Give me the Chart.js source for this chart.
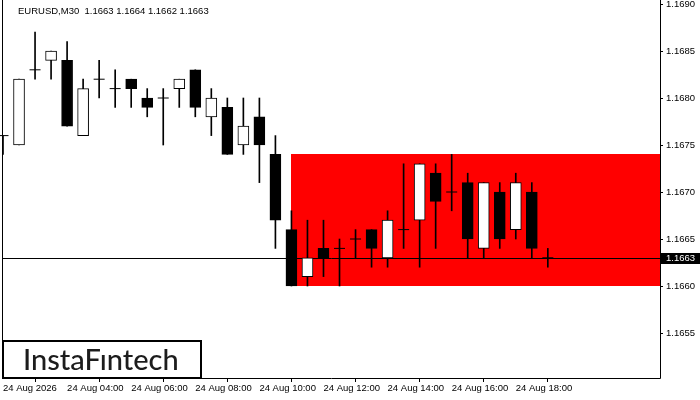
<!DOCTYPE html>
<html>
<head>
<meta charset="utf-8">
<script src="https://cdn.jsdelivr.net/npm/chart.js@4.4.1/dist/chart.umd.min.js"></script>
<style>
  html, body { margin: 0; padding: 0; background: #fff; }
  canvas { display: block; }
</style>
</head>
<body>
<canvas id="candleChart" width="700" height="400"></canvas>
<script>
// EURUSD M30 candles
const times = ['02:00','02:30','03:00','03:30','04:00','04:30','05:00','05:30','06:00','06:30',
               '07:00','07:30','08:00','08:30','09:00','09:30','10:00','10:30','11:00','11:30',
               '12:00','12:30','13:00','13:30','14:00','14:30','15:00','15:30','16:00','16:30',
               '17:00','17:30','18:00','18:30','19:00','19:30','20:00','20:30','21:00','21:30',
               '22:00','22:30'];
const opens  = [1.1676,1.1675,1.1683,1.1684,1.1684,1.1676,1.1682,1.1681,1.1682,1.1680,
                1.1680,1.1681,1.1683,1.1678,1.1679,1.1675,1.1678,1.1674,1.1666,1.1661,
                1.1664,1.1664,1.1665,1.1666,1.1663,1.1666,1.1667,1.1672,1.1670,1.1671,
                1.1664,1.1670,1.1666,1.1670,1.1663];
const highs  = [1.1676,1.1682,1.1687,1.1685,1.1686,1.1682,1.1684,1.1683,1.1682,1.1681,
                1.1681,1.1682,1.1683,1.1681,1.1680,1.1680,1.1680,1.1676,1.1668,1.1667,
                1.1667,1.1665,1.1666,1.1666,1.1668,1.1673,1.1673,1.1673,1.1674,1.1672,
                1.1671,1.1671,1.1672,1.1671,1.1664];
const lows   = [1.1674,1.1675,1.1682,1.1682,1.1677,1.1676,1.1680,1.1679,1.1679,1.1678,
                1.1675,1.1679,1.1678,1.1676,1.1674,1.1674,1.1671,1.1664,1.1660,1.1660,
                1.1661,1.1660,1.1663,1.1662,1.1662,1.1664,1.1662,1.1664,1.1668,1.1663,
                1.1663,1.1664,1.1665,1.1663,1.1662];
const closes = [1.1676,1.1682,1.1683,1.1685,1.1677,1.1681,1.1682,1.1681,1.1681,1.1679,
                1.1680,1.1682,1.1679,1.1680,1.1674,1.1677,1.1675,1.1667,1.1660,1.1663,
                1.1663,1.1664,1.1665,1.1664,1.1667,1.1666,1.1673,1.1669,1.1670,1.1665,
                1.1671,1.1665,1.1671,1.1664,1.1663];

const tickIndex  = [0, 4, 8, 12, 16, 20, 24, 28, 32];
const tickLabels = ['24 Aug 2026','24 Aug 04:00','24 Aug 06:00','24 Aug 08:00','24 Aug 10:00',
                    '24 Aug 12:00','24 Aug 14:00','24 Aug 16:00','24 Aug 18:00'];
const priceTicks = [1.1655, 1.1660, 1.1665, 1.1670, 1.1675, 1.1680, 1.1685, 1.1690];

// red pattern zone
const zoneStart = 18;
const zoneHigh = 1.1674;
const zoneLow = 1.1660;

const lastPrice = closes[closes.length - 1];
const titleText = 'EURUSD,M30  ' + [opens, highs, lows, closes].map(a => a[a.length - 1].toFixed(4)).join(' ');

const axisFont = { family: "'Liberation Sans', Arial, sans-serif", size: 9.5 };

const wicks = lows.map((l, i) => [l, highs[i]]);
const bodies = opens.map((o, i) => o === closes[i] ? null : [o, closes[i]]);
const bodyColors = opens.map((o, i) => closes[i] > o ? '#ffffff' : '#000000');
const dojis = opens.map((o, i) => o === closes[i] ? o : null);

const overlayPlugin = {
    id: 'overlay',
    beforeDatasetsDraw(chart) {
        const { ctx, chartArea, scales } = chart;
        const x = scales.x, y = scales.y;
        ctx.save();
        // zone
        const zx = x.getPixelForValue(zoneStart);
        const zt = y.getPixelForValue(zoneHigh);
        const zb = y.getPixelForValue(zoneLow);
        ctx.fillStyle = '#ff0000';
        ctx.fillRect(Math.round(zx), Math.round(zt), chartArea.right - Math.round(zx), Math.round(zb) - Math.round(zt));
        // bid line
        const by = Math.round(y.getPixelForValue(lastPrice)) + 0.5;
        ctx.strokeStyle = '#000';
        ctx.lineWidth = 1;
        ctx.beginPath();
        ctx.moveTo(chartArea.left, by);
        ctx.lineTo(chartArea.right, by);
        ctx.stroke();
        ctx.restore();
    },
    afterDraw(chart) {
        const { ctx, chartArea, scales } = chart;
        const y = scales.y;
        ctx.save();
        // frame (no top line)
        ctx.strokeStyle = '#000';
        ctx.lineWidth = 1;
        ctx.beginPath();
        ctx.moveTo(chartArea.left - 0.5, 0);
        ctx.lineTo(chartArea.left - 0.5, chartArea.bottom + 0.5);
        ctx.lineTo(chartArea.right + 0.5, chartArea.bottom + 0.5);
        ctx.lineTo(chartArea.right + 0.5, 0);
        ctx.stroke();

        // watermark box
        ctx.fillStyle = '#fff';
        ctx.fillRect(3, 341, 198, 37);
        ctx.lineWidth = 2;
        ctx.strokeRect(3, 341, 198, 37);
        ctx.fillStyle = '#1c1c1c';
        ctx.font = "500 29px Lato, 'Open Sans', sans-serif";
        ctx.textBaseline = 'alphabetic';
        ctx.textAlign = 'left';
        ctx.fillText('InstaF\u0131ntech', 23, 370);

        // price label
        const py = Math.round(y.getPixelForValue(lastPrice));
        ctx.fillStyle = '#000';
        ctx.fillRect(chartArea.right + 1, py - 5, 700 - chartArea.right, 11);
        ctx.fillStyle = '#fff';
        ctx.font = "9.5px 'Liberation Sans', Arial, sans-serif";
        ctx.textBaseline = 'middle';
        ctx.fillText(lastPrice.toFixed(4), chartArea.right + 6, py + 0.5);

        // title
        ctx.fillStyle = '#000';
        ctx.fillText(titleText, 18, 11);
        ctx.restore();
    }
};

new Chart(document.getElementById('candleChart').getContext('2d'), {
    type: 'bar',
    data: {
        labels: times,
        datasets: [
            {
                label: 'Doji',
                type: 'line',
                data: dojis,
                showLine: false,
                pointStyle: 'line',
                pointRadius: 5.5,
                pointHoverRadius: 5.5,
                borderColor: '#000',
                borderWidth: 1,
                order: 0
            },
            {
                label: 'Body',
                data: bodies,
                backgroundColor: bodyColors,
                borderColor: '#000',
                borderWidth: 1,
                borderSkipped: false,
                barThickness: 11,
                grouped: false,
                order: 1
            },
            {
                label: 'Wick',
                data: wicks,
                backgroundColor: '#000',
                borderWidth: 0,
                barThickness: 1,
                grouped: false,
                order: 2
            }
        ]
    },
    options: {
        responsive: false,
        animation: false,
        devicePixelRatio: 1,
        layout: { autoPadding: false, padding: { left: 3, top: 0, right: 0, bottom: 0 } },
        plugins: {
            legend: { display: false },
            tooltip: { enabled: false },
            title: { display: false }
        },
        scales: {
            x: {
                type: 'category',
                offset: false,
                grid: { display: true, drawOnChartArea: false, drawTicks: true, tickLength: 4, color: '#000' },
                border: { display: false },
                afterBuildTicks: axis => { axis.ticks = tickIndex.map(v => ({ value: v })); },
                afterFit: scale => {
                    scale.height = 22;
                    scale.paddingLeft = 0;
                    scale.paddingRight = 0;
                },
                ticks: {
                    autoSkip: false,
                    maxRotation: 0,
                    align: 'start',
                    padding: 1,
                    color: '#000',
                    font: axisFont,
                    callback: (v, i) => tickLabels[i]
                }
            },
            y: {
                position: 'right',
                min: 1.1650213,
                max: 1.1690426,
                grid: { display: true, drawOnChartArea: false, drawTicks: true, tickLength: 3, color: '#000' },
                border: { display: false },
                afterBuildTicks: axis => { axis.ticks = priceTicks.map(v => ({ value: v })); },
                afterFit: scale => {
                    scale.width = 40;
                    scale.paddingTop = 0;
                    scale.paddingBottom = 0;
                },
                ticks: {
                    padding: 3,
                    color: '#000',
                    font: axisFont,
                    callback: v => v.toFixed(4)
                }
            }
        }
    },
    plugins: [overlayPlugin]
});
</script>
</body>
</html>
